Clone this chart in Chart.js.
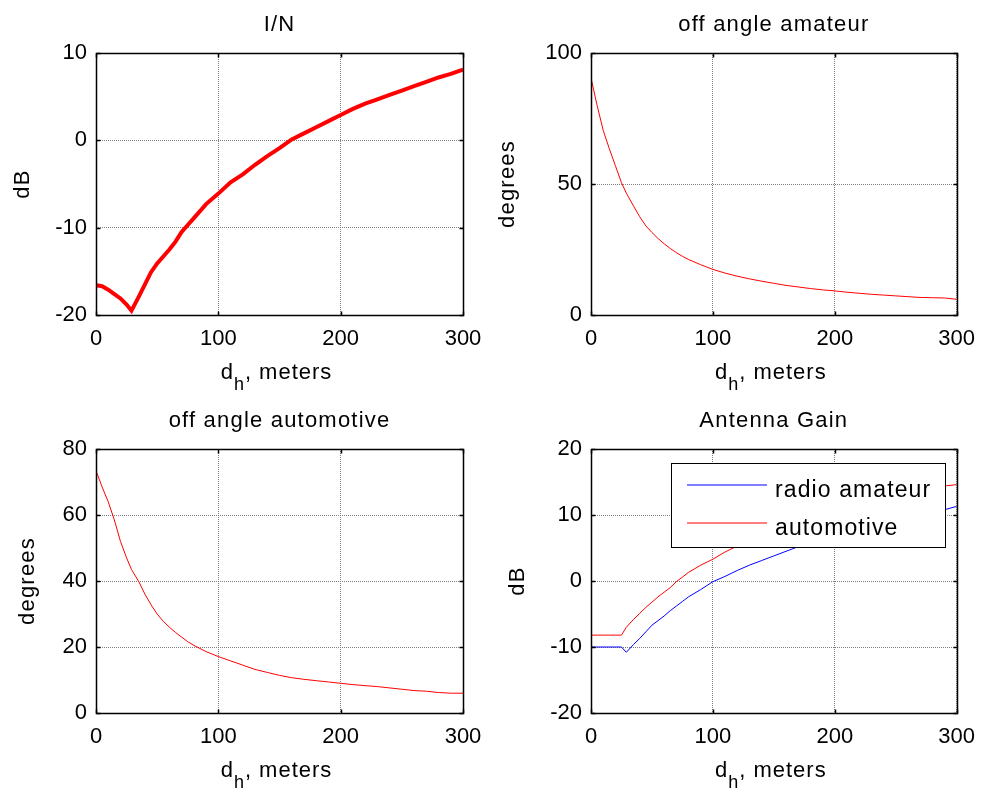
<!DOCTYPE html>
<html>
<head>
<meta charset="utf-8">
<script src="https://cdn.jsdelivr.net/npm/chart.js@4.4.1/dist/chart.umd.min.js"></script>
<style>
  body { margin: 0; background: #fff; }
  #fig { position: relative; width: 986px; height: 796px; }
  canvas { position: absolute; }
</style>
</head>
<body>
<div id="fig">
  <canvas id="c1" width="493" height="398" style="left:0;top:0"></canvas>
  <canvas id="c2" width="493" height="398" style="left:493px;top:0"></canvas>
  <canvas id="c3" width="493" height="398" style="left:0;top:398px"></canvas>
  <canvas id="c4" width="493" height="398" style="left:493px;top:398px"></canvas>
</div>
<script>
// horizontal distance d_h in meters
const distance = [0, 5, 10, 15, 20, 25, 29, 35, 40, 45, 50, 55, 60, 65, 70, 75, 80,
  90, 100, 110, 120, 130, 140, 150, 160, 170, 180, 190, 200, 210, 220, 230, 240, 250, 260, 270, 280, 290, 300];

const interferenceToNoise = [-16.6, -16.7, -17.1, -17.6, -18.1, -18.8, -19.5, -17.9, -16.5, -15.1, -14.1, -13.3, -12.5, -11.6, -10.5, -9.7, -8.9,
  -7.3, -6.1, -4.8, -3.9, -2.8, -1.8, -0.9, 0.1, 0.8, 1.5, 2.2, 2.9, 3.6, 4.2, 4.7, 5.2, 5.7, 6.2, 6.7, 7.2, 7.6, 8.1];

const offAngleAmateur = [90.5, 80, 70.5, 63.5, 57, 50.5, 46.5, 41.5, 37.5, 34, 31.5, 29.2, 27.2, 25.4, 23.8, 22.4, 21.2,
  19.2, 17.4, 16.0, 14.8, 13.8, 12.9, 12.1, 11.3, 10.7, 10.1, 9.6, 9.2, 8.7, 8.3, 7.9, 7.6, 7.3, 7.0, 6.7, 6.6, 6.5, 6.0];

const offAngleAutomotive = [73.4, 68.5, 64, 58.5, 52, 47, 43.5, 39.8, 36, 32.8, 30, 27.8, 26, 24.4, 23, 21.6, 20.5,
  18.6, 17.1, 15.8, 14.5, 13.2, 12.3, 11.4, 10.7, 10.2, 9.8, 9.4, 9.0, 8.6, 8.3, 8.0, 7.6, 7.2, 6.8, 6.6, 6.2, 6.0, 6.0];

const gainAmateur = [-10, -10, -10, -10, -10, -10, -10.8, -9.6, -8.7, -7.7, -6.7, -6.0, -5.3, -4.5, -3.8, -3.1, -2.4,
  -1.3, -0.1, 0.7, 1.6, 2.4, 3.1, 3.8, 4.5, 5.2, 5.8, 6.3, 6.8, 7.3, 7.8, 8.3, 8.7, 9.1, 9.5, 9.9, 10.3, 10.8, 11.3];

const gainAutomotive = [-8.2, -8.2, -8.2, -8.2, -8.2, -8.2, -7.0, -5.8, -4.9, -4.0, -3.2, -2.4, -1.7, -1.0, -0.1, 0.6, 1.3,
  2.4, 3.3, 4.4, 5.3, 6.1, 6.9, 7.6, 8.3, 9.0, 9.6, 10.1, 10.6, 11.1, 11.6, 12.0, 12.4, 12.8, 13.2, 13.6, 14.0, 14.4, 14.6];

const xTicks = [0, 100, 200, 300];
const yTicksIN = [-20, -10, 0, 10];
const yTicksAmateur = [0, 50, 100];
const yTicksAutomotive = [0, 20, 40, 60, 80];
const yTicksGain = [-20, -10, 0, 10, 20];

const FONT = '"Liberation Sans", Arial, sans-serif';

function pts(ys) {
  return distance.map((d, i) => ({ x: d, y: ys[i] }));
}

function spaced(ctx, px) {
  if ('letterSpacing' in ctx) ctx.letterSpacing = px + 'px';
}

// matlab-like box, inward ticks, title, axis labels and legend
const matlabAxes = {
  id: 'matlabAxes',
  afterDatasetsDraw(chart, args, opts) {
    const ctx = chart.ctx;
    const a = chart.chartArea;
    const sx = chart.scales.x, sy = chart.scales.y;
    const cx = (a.left + a.right) / 2, cy = (a.top + a.bottom) / 2;
    ctx.save();

    if (opts.legend) {
      const w = 274, h = 84;
      const lx = Math.round(a.right - 12 - w), ly = Math.round(a.top + 14);
      ctx.fillStyle = '#fff';
      ctx.fillRect(lx, ly, w, h);
      ctx.lineWidth = 1;
      ctx.strokeStyle = '#000';
      ctx.strokeRect(lx + 0.5, ly + 0.5, w, h);
      ctx.font = '23px ' + FONT;
      ctx.textBaseline = 'alphabetic';
      ctx.textAlign = 'left';
      spaced(ctx, 1.1);
      chart.data.datasets.forEach((ds, i) => {
        const yy = ly + 22 + i * 38;
        ctx.save();
        ctx.strokeStyle = ds.borderColor;
        ctx.lineWidth = 1.2;
        ctx.beginPath();
        ctx.moveTo(lx + 16, yy);
        ctx.lineTo(lx + 96, yy);
        ctx.stroke();
        ctx.restore();
        ctx.fillStyle = '#000';
        ctx.fillText(ds.label, lx + 104, yy + 12);
      });
      spaced(ctx, 0);
    }

    ctx.strokeStyle = '#000';
    ctx.lineWidth = 1.5;
    const L = Math.round(a.left) + 0.5, R = Math.round(a.right) + 0.5;
    const T = Math.round(a.top) + 0.5, B = Math.round(a.bottom) + 0.5;
    ctx.strokeRect(L, T, R - L, B - T);
    ctx.beginPath();
    sx.ticks.forEach(t => {
      const p = Math.round(sx.getPixelForValue(t.value)) + 0.5;
      ctx.moveTo(p, B); ctx.lineTo(p, B - 4);
      ctx.moveTo(p, T); ctx.lineTo(p, T + 4);
    });
    sy.ticks.forEach(t => {
      const p = Math.round(sy.getPixelForValue(t.value)) + 0.5;
      ctx.moveTo(L, p); ctx.lineTo(L + 4, p);
      ctx.moveTo(R, p); ctx.lineTo(R - 4, p);
    });
    ctx.stroke();

    ctx.fillStyle = '#000';
    ctx.textBaseline = 'alphabetic';

    // title
    ctx.font = '22px ' + FONT;
    ctx.textAlign = 'center';
    spaced(ctx, 1.2);
    ctx.fillText(opts.title, cx, a.top - 22);

    // y label, rotated
    ctx.save();
    ctx.translate(opts.yLabelX, cy);
    ctx.rotate(-Math.PI / 2);
    ctx.fillText(opts.yLabel, 0, 0);
    ctx.restore();

    // x label: d_h, meters
    ctx.textAlign = 'left';
    spaced(ctx, 1);
    const big = '22px ' + FONT, small = '18px ' + FONT;
    ctx.font = big;
    const wd = ctx.measureText('d').width;
    const wr = ctx.measureText(', meters').width;
    ctx.font = small;
    const wh = ctx.measureText('h').width;
    const base = a.bottom + 64;
    const x0 = cx - 3 - (wd + wh + wr) / 2;
    ctx.font = big;
    ctx.fillText('d', x0, base);
    ctx.font = small;
    ctx.fillText('h', x0 + wd, base + 11);
    ctx.font = big;
    ctx.fillText(', meters', x0 + wd + wh, base);
    ctx.restore();
  }
};

function makeChart(id, cfg) {
  return new Chart(document.getElementById(id), {
    type: 'line',
    data: { datasets: cfg.datasets },
    options: {
      responsive: false,
      animation: false,
      devicePixelRatio: 1,
      layout: { padding: { left: 0, right: 493 - cfg.areaRight, top: cfg.areaTop, bottom: 0 } },
      elements: { point: { radius: 0 }, line: { tension: 0 } },
      plugins: {
        legend: { display: false },
        tooltip: { enabled: false },
        title: { display: false },
        matlabAxes: { legend: !!cfg.legend, title: cfg.title, yLabel: cfg.yLabel, yLabelX: cfg.yLabelX }
      },
      scales: {
        x: {
          type: 'linear',
          min: 0, max: 300,
          afterBuildTicks: s => { s.ticks = xTicks.map(v => ({ value: v })); },
          afterFit: s => { s.height = 398 - 315; },
          ticks: { color: '#000', font: { family: FONT, size: 22 }, padding: 11 },
          grid: { color: '#808080', drawTicks: false, lineWidth: 1 },
          border: { display: false, dash: [1, 1] }
        },
        y: {
          min: cfg.yTicks[0], max: cfg.yTicks[cfg.yTicks.length - 1],
          afterBuildTicks: s => { s.ticks = cfg.yTicks.map(v => ({ value: v })); },
          afterFit: s => { s.width = cfg.areaLeft; },
          ticks: { color: '#000', font: { family: FONT, size: 22 }, padding: 9 },
          grid: { color: '#808080', drawTicks: false, lineWidth: 1 },
          border: { display: false, dash: [1, 1] }
        }
      }
    },
    plugins: [matlabAxes]
  });
}

makeChart('c1', {
  title: 'I/N', yLabel: 'dB', yLabelX: 29, yTicks: yTicksIN,
  areaLeft: 96, areaRight: 463, areaTop: 53,
  datasets: [{ label: 'I/N', data: pts(interferenceToNoise), borderColor: '#ff0000', borderWidth: 4 }]
});

makeChart('c2', {
  title: 'off angle amateur', yLabel: 'degrees', yLabelX: 21, yTicks: yTicksAmateur,
  areaLeft: 98, areaRight: 465, areaTop: 53,
  datasets: [{ label: 'off angle amateur', data: pts(offAngleAmateur), borderColor: '#ff0000', borderWidth: 1 }]
});

makeChart('c3', {
  title: 'off angle automotive', yLabel: 'degrees', yLabelX: 34, yTicks: yTicksAutomotive,
  areaLeft: 96, areaRight: 463, areaTop: 51,
  datasets: [{ label: 'off angle automotive', data: pts(offAngleAutomotive), borderColor: '#ff0000', borderWidth: 1 }]
});

makeChart('c4', {
  title: 'Antenna Gain', yLabel: 'dB', yLabelX: 31, yTicks: yTicksGain,
  areaLeft: 98, areaRight: 465, areaTop: 51, legend: true,
  datasets: [
    { label: 'radio amateur', data: pts(gainAmateur), borderColor: '#0000ff', borderWidth: 1 },
    { label: 'automotive', data: pts(gainAutomotive), borderColor: '#ff0000', borderWidth: 1 }
  ]
});
</script>
</body>
</html>
